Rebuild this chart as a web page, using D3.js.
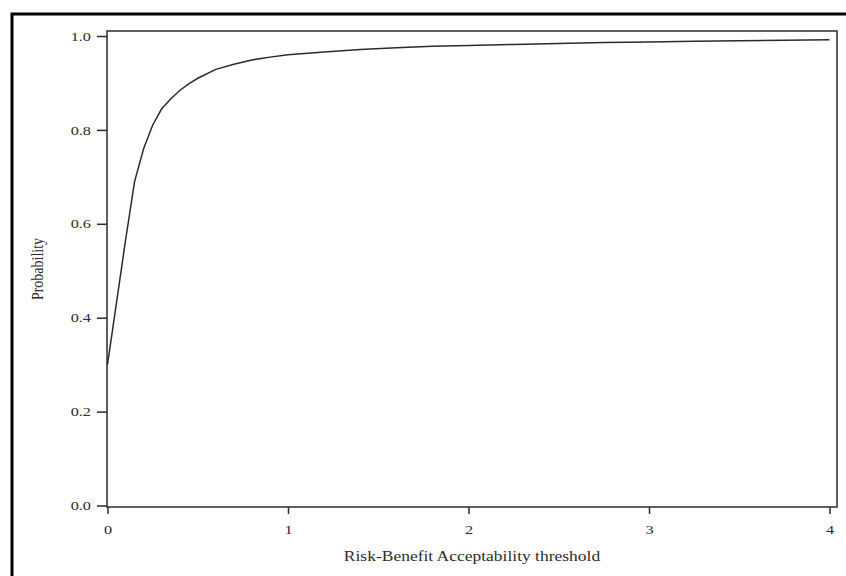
<!DOCTYPE html>
<html>
<head>
<meta charset="utf-8">
<script src="https://cdn.jsdelivr.net/npm/d3@7"></script>
<style>
  body { margin: 0; background: #fff; }
  svg { display: block; }
</style>
</head>
<body>
<svg id="chart" width="846" height="576"></svg>
<script>
// threshold values (x) and probability
const thresholds = [0, 0.1, 0.15, 0.2, 0.25, 0.3, 0.35, 0.4, 0.45, 0.5, 0.6, 0.7, 0.8, 0.9, 1.0,
  1.2, 1.4, 1.6, 1.8, 2.0, 2.25, 2.5, 2.75, 3.0, 3.25, 3.5, 3.75, 4.0];
const probability = [0.30, 0.565, 0.69, 0.76, 0.81, 0.845, 0.866, 0.884, 0.898, 0.910, 0.929, 0.940,
  0.949, 0.955, 0.960, 0.966, 0.971, 0.975, 0.978, 0.980, 0.982, 0.984, 0.986, 0.987, 0.989, 0.990,
  0.991, 0.992];
const xTicks = [0, 1, 2, 3, 4];
const yTicks = [0, 0.2, 0.4, 0.6, 0.8, 1.0];
const xTitle = 'Risk-Benefit Acceptability threshold';
const yTitle = 'Probability';

const svg = d3.select('#chart');
const font = '"Liberation Serif", "Times New Roman", serif';
const ink = '#2b2b2b';
// the source picture is stretched sideways, so text is widened to match
const stretch = 1.25;

const frame = { left: 107, top: 31, right: 837, bottom: 507 };

const x = d3.scaleLinear().domain([0, 4]).range([107.5, 829.5]);
const y = d3.scaleLinear().domain([0, 1]).range([505.5, 36]);

// outer border (right and bottom run off the page)
svg.append('rect')
  .attr('x', 12).attr('y', 14)
  .attr('width', 850).attr('height', 580)
  .attr('fill', 'none')
  .attr('stroke', '#000')
  .attr('stroke-width', 3);

// plot frame
svg.append('rect')
  .attr('x', frame.left).attr('y', frame.top)
  .attr('width', frame.right - frame.left)
  .attr('height', frame.bottom - frame.top)
  .attr('fill', 'none')
  .attr('stroke', ink)
  .attr('stroke-width', 1.5);

const xAxis = svg.append('g')
  .attr('transform', `translate(0,${frame.bottom})`)
  .call(d3.axisBottom(x).tickValues(xTicks).tickFormat(d3.format('d')).tickSize(7).tickPadding(11));

const yAxis = svg.append('g')
  .attr('transform', `translate(${frame.left},0)`)
  .call(d3.axisLeft(y).tickValues(yTicks).tickFormat(d3.format('.1f')).tickSize(10));

[xAxis, yAxis].forEach((g) => {
  g.select('.domain').remove();
  g.selectAll('line').attr('stroke', ink).attr('stroke-width', 1.5);
  g.selectAll('text')
    .attr('fill', ink)
    .attr('transform', `scale(${stretch},1)`)
    .style('font-family', font)
    .style('font-size', '13px');
});
yAxis.selectAll('text').attr('x', -16 / stretch);

const line = d3.line()
  .x((d, i) => x(thresholds[i]))
  .y((d) => y(d));

svg.append('path')
  .datum(probability)
  .attr('d', line)
  .attr('fill', 'none')
  .attr('stroke', ink)
  .attr('stroke-width', 1.5);

svg.append('text')
  .attr('transform', `translate(${(frame.left + frame.right) / 2},561) scale(${stretch},1)`)
  .attr('text-anchor', 'middle')
  .attr('fill', ink)
  .style('font-family', font)
  .style('font-size', '14px')
  .text(xTitle);

svg.append('text')
  .attr('transform', `translate(43,${(frame.top + frame.bottom) / 2}) scale(${stretch},1) rotate(-90)`)
  .attr('text-anchor', 'middle')
  .attr('fill', ink)
  .style('font-family', font)
  .style('font-size', '14px')
  .text(yTitle);
</script>
</body>
</html>
